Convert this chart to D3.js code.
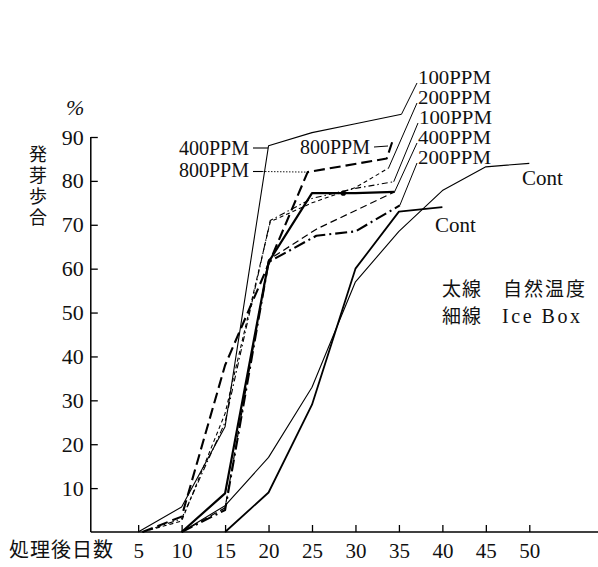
<!DOCTYPE html>
<html><head><meta charset="utf-8">
<script src="https://cdn.jsdelivr.net/npm/d3@7"></script>
<style>body{margin:0;background:#fff}svg{display:block}</style>
</head><body><svg id="c" width="598" height="567"></svg>
<script>
// ---- data (days after treatment, germination %) ----
const xTicks = [5,10,15,20,25,30,35,40,45,50];
const yTicks = [10,20,30,40,50,60,70,80,90];
// thin lines: Ice Box
const iceSolid   = [[5,0],[10,5.7],[15,24],[20,88],[25,91],[30,93],[35.3,95.2]];
const iceDash    = [[5.5,0],[10,2.5],[15,27],[20.2,70.7],[25,75],[30,78.5],[33.8,82.9]];
const iceDashDot = [[5.5,0],[10,3],[15,25],[20.2,71],[25,76],[30,78.3],[34.4,79.8]];
const iceDash2   = [[10,0],[15,5.5],[20,62],[25.5,69],[34.5,77.5]];
const iceCont    = [[10,0],[15,6],[20,17],[25,33],[30,57],[35,68.5],[40,77.8],[45,83.2],[50,84]];
// thick lines: natural temperature
const natSolid   = [[10,0],[15,8.8],[20,61.5],[25,77.2],[30,77.2],[34.5,77.5]];
const natDashDot = [[10,0],[15,5],[20,61.5],[25.5,67.5],[30,68.5],[35.1,74.4]];
const natDash    = [[5.5,0],[10,3.5],[15,38],[20,61],[24.5,82],[33.6,85.1],[34.3,89.3]];
const natCont    = [[15,0],[20,9],[25,29],[30,60],[35,73],[40,74]];
const blob       = [[28.6,77.2]];
const rightLabels = ["100PPM","200PPM","100PPM","400PPM","200PPM"];
const rightTargets = [iceSolid, iceDash, iceDashDot, natSolid, natDashDot];
const leftLabels = ["400PPM","800PPM"];
const midLabel = "800PPM";
const contLabel = "Cont";
const yTitle = "発芽歩合";
const xTitle = "処理後日数";
const legend = [["太線","自然温度"],["細線","Ice Box"]];

// ---- drawing ----
const svg = d3.select("#c");
const x = d3.scaleLinear().domain([0,50]).range([94.7,529.3]);
const y = d3.scaleLinear().domain([0,90]).range([532,137]);
const serif = "'Liberation Serif','Times New Roman',serif";
const cjk = "'Noto Sans CJK JP','Noto Sans CJK SC',sans-serif";

// axes
const xa = svg.append("g").attr("transform",`translate(0,${y(0)})`)
  .call(d3.axisBottom(x).tickValues(xTicks).tickSizeInner(-7).tickSizeOuter(0).tickPadding(11));
xa.select(".domain").remove();
xa.append("line").attr("x1",x(-0.45)).attr("x2",598).attr("stroke","#000").attr("stroke-width",1.5);
xa.selectAll(".tick line").attr("stroke-width",1.3);
xa.selectAll(".tick text").attr("font-family",serif).attr("font-size",21).attr("fill","#111").attr("dy","0.71em");

const ya = svg.append("g").attr("transform",`translate(${x(-0.45)},0)`)
  .call(d3.axisLeft(y).tickValues(yTicks).tickSizeInner(-7).tickSizeOuter(0).tickPadding(7));
ya.select(".domain").remove();
ya.append("line").attr("y1",y(0)).attr("y2",y(90)).attr("stroke","#000").attr("stroke-width",1.5);
ya.selectAll(".tick line").attr("stroke-width",1.3);
ya.selectAll(".tick text").attr("font-family",serif).attr("font-size",22).attr("fill","#111");

// series
const line = d3.line().x(d=>x(d[0])).y(d=>y(d[1]));
const series = [
  {d:iceCont, w:1.1, dash:null},
  {d:natCont, w:1.8, dash:null},
  {d:iceSolid, w:1.1, dash:null},
  {d:iceDash, w:1.1, dash:"4,3"},
  {d:iceDashDot, w:1.1, dash:"6,3,1.5,3"},
  {d:iceDash2, w:1.2, dash:"7,4"},
  {d:natDashDot, w:2.1, dash:"12,4,2,4"},
  {d:natDash, w:2.1, dash:"11,5"},
  {d:natSolid, w:2.2, dash:null}
];
svg.append("g").selectAll("path").data(series).join("path")
  .attr("d",s=>line(s.d)).attr("fill","none").attr("stroke","#000")
  .attr("stroke-width",s=>s.w).attr("stroke-dasharray",s=>s.dash)
  .attr("stroke-linejoin","round");
svg.append("g").selectAll("circle").data(blob).join("circle")
  .attr("cx",d=>x(d[0])).attr("cy",d=>y(d[1])).attr("r",2.6).attr("fill","#000");

// right labels with leaders
const rl = svg.append("g");
const rlX = [418,418,419,418,418], rlY = [84,104,124,144,164];
rightLabels.forEach((t,i)=>{
  rl.append("text").attr("x",rlX[i]).attr("y",rlY[i]).text(t)
    .attr("font-family",serif).attr("font-size",18).attr("textLength",73)
    .attr("lengthAdjust","spacingAndGlyphs").attr("fill","#111");
  const e = rightTargets[i][rightTargets[i].length-1];
  rl.append("line").attr("x1",rlX[i]-1).attr("y1",rlY[i]-1).attr("x2",x(e[0])).attr("y2",y(e[1]))
    .attr("stroke","#000").attr("stroke-width",1);
});

// left labels
const ll = svg.append("g");
ll.append("text").attr("x",179).attr("y",155).text(leftLabels[0]).attr("font-family",serif).attr("font-size",20).attr("fill","#111");
ll.append("line").attr("x1",253).attr("x2",x(19.95)).attr("y1",148).attr("y2",148).attr("stroke","#000").attr("stroke-width",1.1);
ll.append("text").attr("x",179).attr("y",177).text(leftLabels[1]).attr("font-family",serif).attr("font-size",20).attr("fill","#111");
ll.append("line").attr("x1",253).attr("x2",262).attr("y1",171.5).attr("y2",171.5).attr("stroke","#000").attr("stroke-width",1.1);
ll.append("line").attr("x1",262).attr("x2",x(24.5)).attr("y1",171.5).attr("y2",y(82)).attr("stroke","#000").attr("stroke-width",0.9).attr("stroke-dasharray","1.5,1.5");
ll.append("text").attr("x",300).attr("y",154).text(midLabel).attr("font-family",serif).attr("font-size",20).attr("fill","#111");
ll.append("line").attr("x1",374).attr("x2",388).attr("y1",147).attr("y2",146).attr("stroke","#000").attr("stroke-width",1);

// Cont labels
svg.append("text").attr("x",522).attr("y",185).text(contLabel).attr("font-family",serif).attr("font-size",21).attr("fill","#111");
svg.append("text").attr("x",435).attr("y",232).text(contLabel).attr("font-family",serif).attr("font-size",21).attr("fill","#111");

// titles
svg.append("text").attr("x",66).attr("y",115).text("%").attr("font-family",serif).attr("font-size",22).attr("font-style","italic").attr("fill","#111");
svg.append("text").attr("x",38).attr("y",145).text(yTitle)
  .style("writing-mode","vertical-rl").attr("font-family",cjk).attr("font-size",18)
  .attr("letter-spacing",3).attr("fill","#111");
svg.append("text").attr("x",9).attr("y",557).text(xTitle).attr("font-family",cjk).attr("font-size",20).attr("letter-spacing",1).attr("fill","#111");

// legend notes
const lgY = [296,323];
legend.forEach((r,i)=>{
  svg.append("text").attr("x",442).attr("y",lgY[i]).text(r[0]).attr("font-family",cjk).attr("font-size",19).attr("letter-spacing",1).attr("fill","#111");
  if(i===0) svg.append("text").attr("x",503).attr("y",lgY[i]).text(r[1]).attr("font-family",cjk).attr("font-size",19).attr("letter-spacing",2).attr("fill","#111");
  else svg.append("text").attr("x",502).attr("y",lgY[i]).text(r[1]).attr("font-family",serif).attr("font-size",20).attr("textLength",78).attr("fill","#111");
});
</script></body></html>
